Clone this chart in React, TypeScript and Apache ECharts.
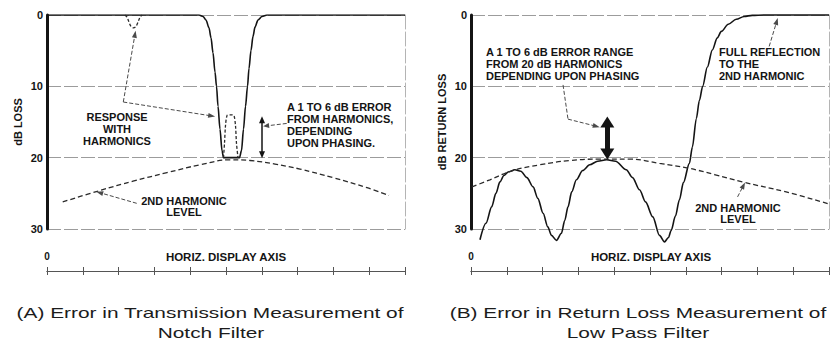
import React, { useEffect, useRef } from "react";
import * as echarts from "echarts";

// ---- axes ----
const Y_MIN = 0;
const Y_MAX = 30;
const Y_STEP = 10;
const H_MIN = 0;
const H_MAX = 10;
const H_STEP = 1;

// ---- panel A: notch filter (x in display divisions, y in dB loss) ----
const notchX = [0, 4.246, 4.358, 4.441, 4.525, 4.581, 4.637, 4.693, 4.735, 4.777, 4.832, 4.888, 4.93, 5.377, 5.433, 5.489, 5.545, 5.601, 5.642, 5.698, 5.754, 5.81, 5.894, 6.006, 6.145, 10];
const notchDb = [0, 0, 0.2, 0.7, 1.8, 3.2, 5.3, 8, 10, 12.8, 16, 19, 20, 20, 19, 16, 12.8, 10, 7.5, 5, 3, 1.7, 0.7, 0.2, 0, 0];

const bumpX = [4.93, 4.958, 4.986, 5.028, 5.084, 5.168, 5.223, 5.265, 5.293, 5.335];
const bumpDb = [20, 18, 15.5, 14.1, 14, 14, 14.1, 15.5, 18, 20];

const dipX = [2.179, 2.235, 2.291, 2.346, 2.416, 2.486, 2.542, 2.598, 2.654];
const dipDb = [0, 0.3, 1, 1.6, 1.8, 1.6, 1, 0.3, 0];

const harmAX = [0.439, 1.48, 2.402, 3.352, 4.274, 5.112, 5.67, 6.369, 7.067, 7.989, 8.939, 9.553];
const harmADb = [26.2, 24.6, 23.3, 22.1, 21.0, 20.3, 20.4, 20.9, 21.6, 22.8, 24.2, 25.3];

// ---- panel B: low pass filter (x in display divisions, y in dB return loss) ----
const lpfX = [0.251, 0.418, 0.577, 0.696, 0.808, 0.919, 1.039, 1.226, 1.393, 1.56, 1.735, 1.866, 2.014, 2.145, 2.248, 2.387, 2.526, 2.618, 2.71, 2.813, 2.944, 3.12, 3.315, 3.538, 3.788, 4.039, 4.337, 4.513, 4.708, 4.875, 5.078, 5.265, 5.404, 5.515, 5.591, 5.71, 5.822, 5.933, 6.1, 6.184, 6.295, 6.379, 6.471, 6.602, 6.741, 6.88, 6.992, 7.187, 7.409, 7.632, 7.855, 8.189, 10];
const lpfDb = [31.5, 29.2, 26.9, 25, 23.4, 22.5, 22.0, 21.7, 21.9, 22.8, 24.1, 25.7, 27.8, 29.7, 30.9, 31.6, 30.6, 28.8, 26.9, 24.8, 23.1, 21.8, 21.0, 20.5, 20.3, 20.5, 21.7, 22.8, 24.5, 26.2, 28.3, 30.9, 31.8, 31.2, 30.2, 28.2, 25.9, 23.5, 20.8, 18.5, 14.5, 12, 10, 7.3, 4.9, 3.2, 2.3, 1.3, 0.6, 0.2, 0.05, 0, 0];

const harmBX = [0.028, 0.529, 1.17, 1.922, 2.758, 3.593, 4.429, 5.265, 6.1, 6.825, 7.577, 8.802, 10];
const harmBDb = [24.1, 23.1, 21.8, 21.0, 20.4, 20.2, 20.2, 20.8, 21.5, 22.4, 23.4, 24.8, 26.5];

// ---- texts ----
const titleA = "(A) Error in Transmission Measurement of";
const titleA2 = "Notch Filter";
const titleB = "(B) Error in Return Loss Measurement of";
const titleB2 = "Low Pass Filter";
const yNameA = "dB LOSS";
const yNameB = "dB RETURN LOSS";
const hAxisName = "HORIZ. DISPLAY AXIS";

const FONT = '"Liberation Sans", Arial, Helvetica, sans-serif';
const INK = "#141414";

const zip = (xs: number[], ys: number[]) => xs.map((x, i) => [x, ys[i]]);

const arrowEnd = (x: number, y: number, size: number[] = [5, 7]) => ({
  coord: [x, y],
  symbol: "triangle",
  symbolSize: size,
});
const plainEnd = (x: number, y: number) => ({ coord: [x, y], symbol: "none" });

function buildAxesFor(g: number, yName: string) {
  const xs = [
    { gridIndex: g, type: "value", min: H_MIN, max: H_MAX, show: false },
    {
      gridIndex: g,
      type: "value",
      min: H_MIN,
      max: H_MAX,
      interval: H_STEP,
      position: "bottom",
      offset: 42,
      axisLine: { show: true, onZero: false, lineStyle: { color: "#555", width: 1 } },
      axisTick: { show: true, inside: true, length: 4, lineStyle: { color: "#555", width: 1 } },
      axisLabel: {
        show: true,
        inside: true,
        margin: 10,
        formatter: (v: number) => (v === 0 ? "0" : ""),
        fontSize: 10,
        fontWeight: "bold",
        fontFamily: FONT,
        color: INK,
      },
      splitLine: { show: false },
    },
    {
      gridIndex: g,
      type: "value",
      min: H_MIN,
      max: H_MAX,
      interval: H_STEP,
      position: "bottom",
      offset: 42,
      axisLine: { show: true, onZero: false, lineStyle: { color: "#555", width: 1 } },
      axisTick: { show: true, inside: false, length: 4, lineStyle: { color: "#555", width: 1 } },
      axisLabel: { show: false },
      splitLine: { show: false },
    },
  ];
  const ys = [
    {
      gridIndex: g,
      type: "value",
      inverse: true,
      min: Y_MIN,
      max: Y_MAX,
      interval: Y_STEP,
      name: yName,
      nameLocation: "middle",
      nameGap: 24,
      nameTextStyle: { fontSize: 11, fontWeight: "bold", fontFamily: FONT, color: INK },
      axisLine: { show: true, onZero: false, lineStyle: { color: INK, width: 3 } },
      axisTick: { show: false },
      axisLabel: { fontSize: 11, fontWeight: "bold", fontFamily: FONT, color: INK, margin: 4 },
      splitLine: { show: true, lineStyle: { color: "#9c9c9c", width: 1, type: [14, 3] } },
    },
    {
      gridIndex: g,
      type: "value",
      inverse: true,
      min: Y_MIN,
      max: Y_MAX,
      position: "right",
      axisLine: { show: true, onZero: false, lineStyle: { color: "#b4b4b4", width: 1, type: [14, 3] } },
      axisTick: { show: false },
      axisLabel: { show: false },
      splitLine: { show: false },
    },
  ];
  return { xs, ys };
}

const markBase = {
  silent: true,
  animation: false,
  symbol: ["none", "none"],
  label: { show: false },
  emphasis: { disabled: true },
  lineStyle: { color: "#4a4a4a", width: 1, type: [4, 2] },
};

function annoText(x: number, y: number, text: string, align: string, extra: any = {}) {
  return {
    type: "text",
    x,
    y,
    silent: true,
    ...extra,
    style: {
      text,
      align,
      verticalAlign: "middle",
      fontSize: 11,
      fontWeight: "bold",
      fontFamily: FONT,
      lineHeight: 12,
      fill: INK,
      ...(extra.style || {}),
    },
  };
}

function caption(x: number, y: number, text: string) {
  return {
    type: "text",
    x,
    y,
    scaleX: 1.39,
    silent: true,
    style: { text, align: "center", verticalAlign: "middle", fontSize: 15, fontFamily: FONT, fill: "#1c1c1c" },
  };
}

export default function App() {
  const ref = useRef<HTMLDivElement>(null);

  useEffect(() => {
    if (!ref.current) return;
    const chart = echarts.init(ref.current, undefined, { renderer: "svg" });
    const a = buildAxesFor(0, yNameA);
    const b = buildAxesFor(1, yNameB);

    const solid = { color: INK, width: 1.6 };
    const dashed = { color: "#2a2a2a", width: 1.3, type: [5, 3] };
    const solidArrow = (w: number) => ({ color: INK, width: w, type: "solid" });

    const option: any = {
      animation: false,
      backgroundColor: "#ffffff",
      grid: [
        { left: 47, top: 15, width: 358, height: 214 },
        { left: 471, top: 15, width: 359, height: 214 },
      ],
      xAxis: [...a.xs, ...b.xs],
      yAxis: [...a.ys, ...b.ys],
      series: [
        {
          type: "line",
          xAxisIndex: 0,
          yAxisIndex: 0,
          data: zip(notchX, notchDb),
          showSymbol: false,
          smooth: 0.3,
          smoothMonotone: "x",
          lineStyle: solid,
          silent: true,
        },
        {
          type: "line",
          xAxisIndex: 0,
          yAxisIndex: 0,
          data: zip(bumpX, bumpDb),
          showSymbol: false,
          smooth: 0.3,
          lineStyle: { ...dashed, type: [3, 2] },
          silent: true,
        },
        {
          type: "line",
          xAxisIndex: 0,
          yAxisIndex: 0,
          data: zip(dipX, dipDb),
          showSymbol: false,
          smooth: 0.3,
          lineStyle: { ...dashed, type: [3, 2] },
          silent: true,
        },
        {
          type: "line",
          xAxisIndex: 0,
          yAxisIndex: 0,
          data: zip(harmAX, harmADb),
          showSymbol: false,
          smooth: 0.4,
          lineStyle: dashed,
          silent: true,
          markLine: {
            ...markBase,
            data: [
              [plainEnd(2.131, 12.2), arrowEnd(2.458, 2.7)],
              [plainEnd(2.131, 12.2), arrowEnd(4.6, 14.15)],
              [
                { ...arrowEnd(6.006, 14.7, [6, 7]), lineStyle: solidArrow(1.5) },
                { ...arrowEnd(6.006, 19.6, [6, 7]), lineStyle: solidArrow(1.5) },
              ],
              [plainEnd(6.696, 15.2), arrowEnd(6.12, 15.55, [5, 6])],
              [plainEnd(2.506, 26.4), arrowEnd(1.47, 24.9)],
            ],
          },
        },
        {
          type: "line",
          xAxisIndex: 3,
          yAxisIndex: 2,
          data: zip(lpfX, lpfDb),
          showSymbol: false,
          smooth: 0.3,
          smoothMonotone: "x",
          clip: false,
          lineStyle: solid,
          silent: true,
        },
        {
          type: "line",
          xAxisIndex: 3,
          yAxisIndex: 2,
          data: zip(harmBX, harmBDb),
          showSymbol: false,
          smooth: 0.4,
          lineStyle: dashed,
          silent: true,
          markLine: {
            ...markBase,
            data: [
              [plainEnd(2.571, 9.8), plainEnd(2.71, 14.6)],
              [plainEnd(2.71, 14.6), arrowEnd(3.5, 15.6)],
              [
                { ...arrowEnd(3.808, 15.0, [14, 11]), lineStyle: solidArrow(5) },
                { ...arrowEnd(3.808, 19.5, [14, 11]), lineStyle: solidArrow(5) },
              ],
              [plainEnd(8.329, 4.4), arrowEnd(8.54, 0.9)],
              [plainEnd(7.446, 25.5), arrowEnd(7.61, 23.9)],
            ],
          },
        },
      ],
      graphic: [
        annoText(117, 129, "RESPONSE\nWITH\nHARMONICS", "center"),
        annoText(287, 125, "A 1 TO 6 dB ERROR\nFROM HARMONICS,\nDEPENDING\nUPON PHASING.", "left"),
        annoText(184, 206.5, "2ND HARMONIC\nLEVEL", "center", { style: { lineHeight: 11 } }),
        annoText(486, 64, "A 1 TO 6 dB ERROR RANGE\nFROM 20 dB HARMONICS\nDEPENDING UPON PHASING", "left"),
        annoText(719, 64, "FULL REFLECTION\nTO THE\n2ND HARMONIC", "left"),
        annoText(738, 213.5, "2ND HARMONIC\nLEVEL", "center", { style: { lineHeight: 11 } }),
        annoText(226, 257, hAxisName, "center", { scaleX: 1.15, style: { fontSize: 10 } }),
        annoText(651, 257, hAxisName, "center", { scaleX: 1.15, style: { fontSize: 10 } }),
        caption(210, 313, titleA),
        caption(211, 333, titleA2),
        caption(638, 313, titleB),
        caption(638, 333, titleB2),
      ],
    };
    chart.setOption(option);
    return () => chart.dispose();
  }, []);

  return (
    <div
      ref={ref}
      style={{ position: "absolute", left: 0, top: 0, width: 832, height: 344, background: "#fff" }}
    />
  );
}
